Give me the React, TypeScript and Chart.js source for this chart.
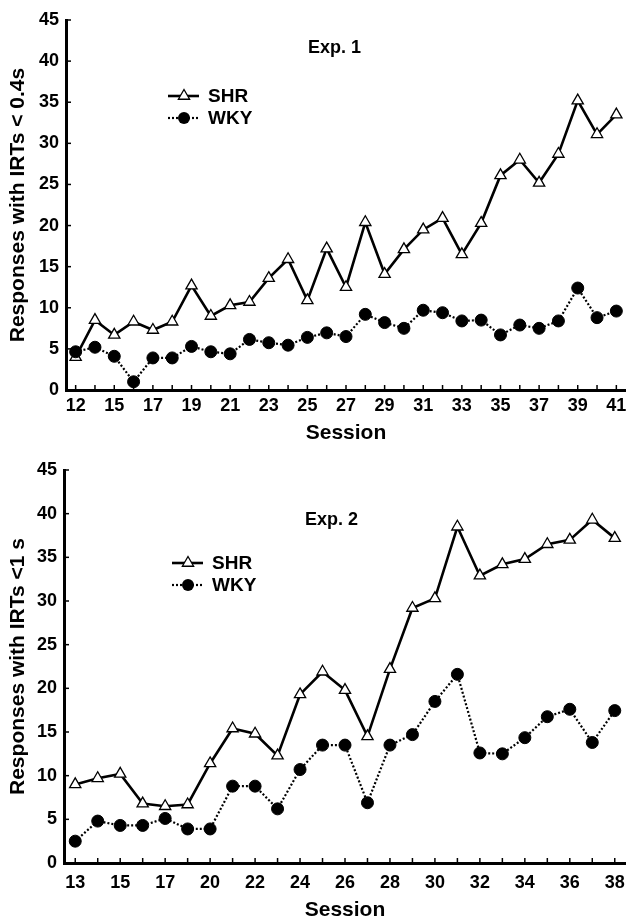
import { useEffect, useRef } from "react";
import { Chart, registerables } from "chart.js";

Chart.register(...registerables);

const FONT = "'Liberation Sans', Arial, Helvetica, sans-serif";

// ---- Exp. 1 data ----
const exp1Sessions = ["12", "14", "15", "16", "17", "18", "19", "20", "21", "22", "23", "24", "25", "26", "27", "28", "29", "30", "31", "32", "33", "34", "35", "36", "37", "38", "39", "40", "41"];
const exp1Shown = ["12", "15", "17", "19", "21", "23", "25", "27", "29", "31", "33", "35", "37", "39", "41"];
const exp1SHR = [4.0, 8.5, 6.7, 8.3, 7.3, 8.3, 12.7, 9.0, 10.3, 10.7, 13.6, 15.9, 10.9, 17.2, 12.5, 20.4, 14.1, 17.1, 19.5, 20.9, 16.5, 20.3, 26.1, 28.0, 25.2, 28.7, 35.2, 31.1, 33.5];
const exp1WKY = [4.65, 5.2, 4.1, 1.0, 3.9, 3.9, 5.3, 4.65, 4.4, 6.15, 5.75, 5.45, 6.4, 6.95, 6.5, 9.2, 8.2, 7.5, 9.7, 9.4, 8.4, 8.5, 6.7, 7.9, 7.5, 8.4, 12.4, 8.8, 9.6];

// ---- Exp. 2 data ----
const exp2Sessions = ["13", "14", "15", "16", "17", "18", "20", "21", "22", "23", "24", "25", "26", "27", "28", "29", "30", "31", "32", "33", "34", "35", "36", "37", "38"];
const exp2Shown = ["13", "15", "17", "20", "22", "24", "26", "28", "30", "32", "34", "36", "38"];
const exp2SHR = [9.0, 9.7, 10.2, 6.8, 6.5, 6.7, 11.4, 15.4, 14.8, 12.3, 19.3, 21.9, 19.8, 14.5, 22.2, 29.2, 30.3, 38.5, 32.9, 34.2, 34.8, 36.5, 37.0, 39.3, 37.2];
const exp2WKY = [2.5, 4.8, 4.3, 4.3, 5.1, 3.9, 3.9, 8.8, 8.8, 6.2, 10.7, 13.5, 13.5, 6.9, 13.5, 14.7, 18.5, 21.6, 12.6, 12.5, 14.35, 16.75, 17.6, 13.8, 17.45];

const yTicks = [0, 5, 10, 15, 20, 25, 30, 35, 40, 45];

type Cfg = {
  width: number;
  height: number;
  sessions: string[];
  shown: string[];
  shr: number[];
  wky: number[];
  yTitle: string;
  exp: string;
  expX: number;
  expY: number;
  legX: number;
  legY: number;
  padTop: number;
  padBottom: number;
  yWidth: number;
  xHeight: number;
  xTickPad: number;
};

function drawTriangle(ctx: CanvasRenderingContext2D, x: number, y: number, r: number) {
  ctx.beginPath();
  for (let k = 0; k < 3; k++) {
    const a = (k * 2 * Math.PI) / 3;
    const px = x + Math.sin(a) * r;
    const py = y - Math.cos(a) * r;
    if (k === 0) ctx.moveTo(px, py);
    else ctx.lineTo(px, py);
  }
  ctx.closePath();
}

function makeAnnotPlugin(cfg: Cfg) {
  return {
    id: "annot",
    afterDraw(chart: any) {
      const ctx: CanvasRenderingContext2D = chart.ctx;
      const x = chart.scales.x;
      const y = chart.scales.y;
      const area = chart.chartArea;
      ctx.save();
      // inward tick marks
      ctx.strokeStyle = "#000";
      ctx.lineWidth = 1.5;
      for (let i = 0; i < x.ticks.length; i++) {
        const px = x.getPixelForTick(i);
        ctx.beginPath();
        ctx.moveTo(px, area.bottom);
        ctx.lineTo(px, area.bottom - 5);
        ctx.stroke();
      }
      for (let i = 0; i < y.ticks.length; i++) {
        const py = y.getPixelForTick(i);
        ctx.beginPath();
        ctx.moveTo(area.left, py);
        ctx.lineTo(area.left + 5, py);
        ctx.stroke();
      }
      // experiment label
      ctx.fillStyle = "#000";
      ctx.font = `bold 18px ${FONT}`;
      ctx.textAlign = "left";
      ctx.textBaseline = "middle";
      ctx.fillText(cfg.exp, cfg.expX, cfg.expY);
      // legend
      const ds = chart.data.datasets;
      const rows = [ds[0], ds[1]];
      rows.forEach((d: any, i: number) => {
        const ly = cfg.legY + i * 22;
        ctx.save();
        ctx.strokeStyle = "#000";
        ctx.lineWidth = d.borderWidth;
        ctx.setLineDash(d.borderDash || []);
        ctx.beginPath();
        ctx.moveTo(cfg.legX, ly);
        ctx.lineTo(cfg.legX + 31, ly);
        ctx.stroke();
        ctx.setLineDash([]);
        const mx = cfg.legX + 16;
        if (d.pointStyle === "triangle") {
          drawTriangle(ctx, mx, ly, d.pointRadius);
          ctx.fillStyle = "#fff";
          ctx.fill();
          ctx.lineWidth = d.pointBorderWidth;
          ctx.stroke();
        } else {
          ctx.beginPath();
          ctx.arc(mx, ly, d.pointRadius, 0, Math.PI * 2);
          ctx.fillStyle = "#000";
          ctx.fill();
        }
        ctx.restore();
        ctx.fillStyle = "#000";
        ctx.font = `bold 19px ${FONT}`;
        ctx.textAlign = "left";
        ctx.textBaseline = "middle";
        ctx.fillText(d.label, cfg.legX + 40, ly + 1);
      });
      ctx.restore();
    },
  };
}

function buildChart(canvas: HTMLCanvasElement, cfg: Cfg) {
  return new Chart(canvas, {
    type: "line",
    data: {
      labels: cfg.sessions,
      datasets: [
        {
          label: "SHR",
          data: cfg.shr,
          borderColor: "#000",
          borderWidth: 2.6,
          pointStyle: "triangle",
          pointRadius: 6.5,
          pointBackgroundColor: "#fff",
          pointBorderColor: "#000",
          pointBorderWidth: 1.3,
          tension: 0,
          fill: false,
          clip: false,
          order: 2,
        } as any,
        {
          label: "WKY",
          data: cfg.wky,
          borderColor: "#000",
          borderWidth: 2.2,
          borderDash: [2, 2],
          pointStyle: "circle",
          pointRadius: 6,
          pointBackgroundColor: "#000",
          pointBorderColor: "#000",
          pointBorderWidth: 1,
          tension: 0,
          fill: false,
          clip: false,
          order: 1,
        } as any,
      ],
    },
    options: {
      responsive: false,
      animation: false,
      layout: { autoPadding: false, padding: { top: cfg.padTop, right: 0, bottom: cfg.padBottom, left: 0 } },
      plugins: { legend: { display: false }, tooltip: { enabled: false } },
      scales: {
        x: {
          type: "category",
          offset: true,
          grid: { display: false, drawTicks: false },
          border: { display: true, width: 3, color: "#000" },
          ticks: {
            autoSkip: false,
            maxRotation: 0,
            padding: cfg.xTickPad,
            color: "#000",
            font: { family: FONT, size: 18, weight: "bold" },
            callback: (_v: any, i: number) => (cfg.shown.includes(cfg.sessions[i]) ? cfg.sessions[i] : ""),
          },
          title: {
            display: true,
            text: "Session",
            color: "#000",
            font: { family: FONT, size: 21, weight: "bold", lineHeight: 1 },
            padding: { top: 0, bottom: 0 },
          },
          afterFit: (s: any) => {
            s.height = cfg.xHeight;
            s.paddingLeft = 0;
            s.paddingRight = 0;
          },
        },
        y: {
          min: 0,
          max: 45,
          afterBuildTicks: (s: any) => {
            s.ticks = yTicks.map((v) => ({ value: v }));
          },
          grid: { display: false, drawTicks: false },
          border: { display: true, width: 3, color: "#000" },
          ticks: {
            padding: 7,
            color: "#000",
            font: { family: FONT, size: 18, weight: "bold" },
          },
          title: {
            display: true,
            text: cfg.yTitle,
            color: "#000",
            font: { family: FONT, size: 21, weight: "bold", lineHeight: 1 },
            padding: { top: 8, bottom: 0 },
          },
          afterFit: (s: any) => {
            s.width = cfg.yWidth;
            s.paddingTop = 0;
            s.paddingBottom = 0;
          },
        },
      },
    } as any,
    plugins: [makeAnnotPlugin(cfg)],
  });
}

const cfg1: Cfg = {
  width: 626,
  height: 460,
  sessions: exp1Sessions,
  shown: exp1Shown,
  shr: exp1SHR,
  wky: exp1WKY,
  yTitle: "Responses with IRTs < 0.4s",
  exp: "Exp. 1",
  expX: 308,
  expY: 48,
  legX: 168,
  legY: 96,
  padTop: 20,
  padBottom: 16,
  yWidth: 66,
  xHeight: 54,
  xTickPad: 5,
};

const cfg2: Cfg = {
  width: 626,
  height: 461,
  sessions: exp2Sessions,
  shown: exp2Shown,
  shr: exp2SHR,
  wky: exp2WKY,
  yTitle: "Responses with IRTs <1 s",
  exp: "Exp. 2",
  expX: 305,
  expY: 60,
  legX: 172,
  legY: 103,
  padTop: 10,
  padBottom: 0,
  yWidth: 64,
  xHeight: 58,
  xTickPad: 9,
};

function ChartCanvas({ cfg }: { cfg: Cfg }) {
  const ref = useRef<HTMLCanvasElement | null>(null);
  useEffect(() => {
    if (!ref.current) return;
    const chart = buildChart(ref.current, cfg);
    return () => chart.destroy();
  }, [cfg]);
  return <canvas ref={ref} width={cfg.width} height={cfg.height} style={{ display: "block", width: cfg.width, height: cfg.height }} />;
}

export default function App() {
  useEffect(() => {
    document.body.style.margin = "0";
    document.body.style.background = "#fff";
  }, []);
  return (
    <div style={{ width: 626, height: 921, background: "#fff" }}>
      <ChartCanvas cfg={cfg1} />
      <ChartCanvas cfg={cfg2} />
    </div>
  );
}
